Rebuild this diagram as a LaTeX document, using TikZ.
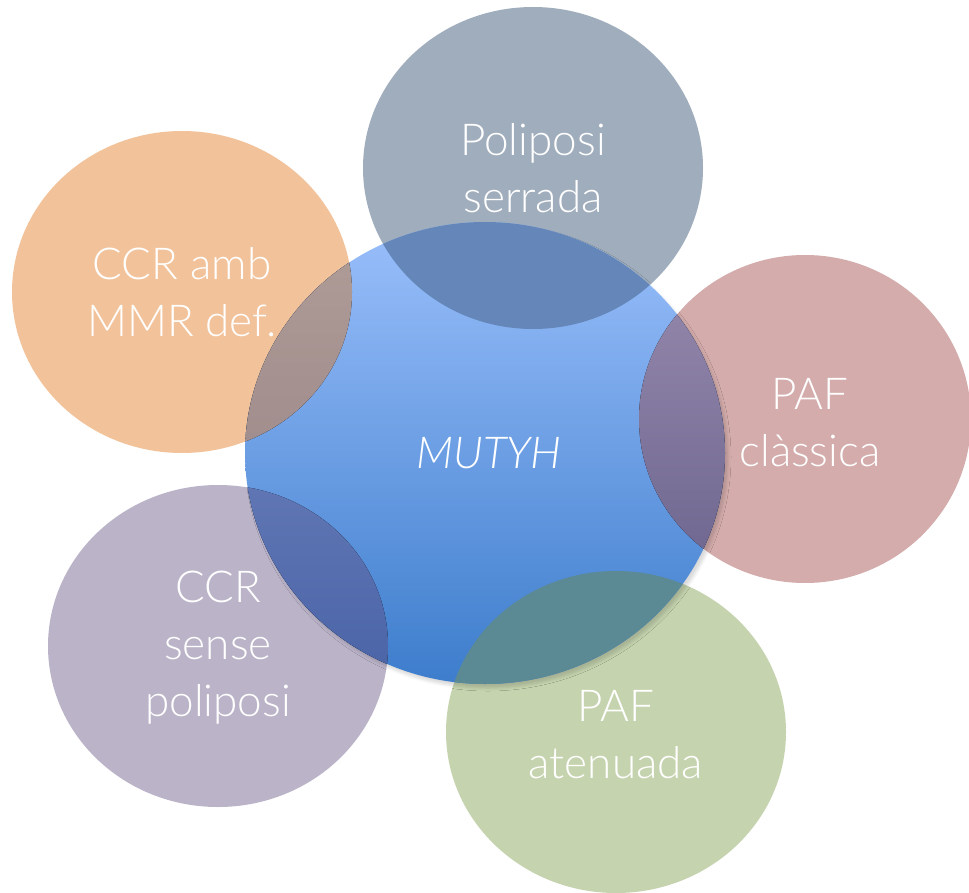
\documentclass[tikz,border=0pt]{standalone}
\usepackage{fontspec}
\setmainfont{Lato}[UprightFont=* Light, ItalicFont=* Light Italic]
\usetikzlibrary{shapes.geometric,shadows.blur}

\definecolor{cOrange}{HTML}{F2C39B}
\definecolor{cSlate}{HTML}{A0ADBC}
\definecolor{cRose}{HTML}{D3ACAB}
\definecolor{cLilac}{HTML}{BBB3C8}
\definecolor{cSage}{HTML}{C5D3AE}
\definecolor{cBlueTop}{HTML}{9ABFFB}
\definecolor{cBlueBot}{HTML}{3D7DCC}

\begin{document}
\begin{tikzpicture}[x=1pt,y=-1pt,
  blob/.style={ellipse, inner sep=0pt, draw=none, minimum width=340pt, minimum height=322pt},
  lbl/.style={text=white, align=center, inner sep=0pt, font=\fontsize{44}{57}\selectfont}]
\useasboundingbox (0,0) rectangle (969,893);

% outer circles
\node[blob, fill=cOrange] (mmr)   at (182,292) {};
\node[blob, fill=cSlate]  (serr)  at (533,168) {};
\node[blob, fill=cRose, minimum width=332pt, minimum height=328pt] (clas) at (805,419) {};
\node[blob, fill=cLilac]  (sense) at (218,646) {};
\node[blob, fill=cSage]   (aten)  at (616,732) {};

% central circle, with a soft shadow towards the lower right
\node[blob, minimum width=480pt, minimum height=462pt,
      top color=cBlueTop, bottom color=cBlueBot,
      blur shadow={shadow xshift=3pt, shadow yshift=-4pt, shadow blur radius=3pt, shadow opacity=15}]
      (mutyh) at (485,453) {};

% overlaps of the outer circles with the central one
\begin{scope}
  \clip (mutyh.center) ellipse [x radius=240, y radius=231];
  \fill[top color={rgb,255:red,183;green,163;blue,155}, bottom color={rgb,255:red,160;green,141;blue,141}]
    (mmr.center) ellipse [x radius=170, y radius=161];
  \fill[color={rgb,255:red,100;green,134;blue,184}]
    (serr.center) ellipse [x radius=170, y radius=161];
  \fill[top color={rgb,255:red,152;green,138;blue,174}, bottom color={rgb,255:red,108;green,101;blue,142}]
    (clas.center) ellipse [x radius=166, y radius=164];
  \fill[top color={rgb,255:red,96;green,118;blue,180}, bottom color={rgb,255:red,60;green,88;blue,158}]
    (sense.center) ellipse [x radius=170, y radius=161];
  \fill[color={rgb,255:red,92;green,138;blue,148}]
    (aten.center) ellipse [x radius=170, y radius=161];
\end{scope}

% labels
\node[lbl] (tmmr)   at (mmr.center)   {CCR amb\\MMR def.};
\node[lbl] (tserr)  at (serr.center)  {Poliposi\\serrada};
\node[lbl] (tclas)  at ([xshift=5pt,yshift=-4pt]clas.center) {PAF\\clàssica};
\node[lbl] (tsense) at ([yshift=-2pt]sense.center) {CCR\\sense\\poliposi};
\node[lbl] (taten)  at ([yshift=-3pt]aten.center)  {PAF\\atenuada};
\node[lbl] (tmutyh) at ([xshift=4pt]mutyh.center) {\itshape MUTYH};
\end{tikzpicture}
\end{document}
